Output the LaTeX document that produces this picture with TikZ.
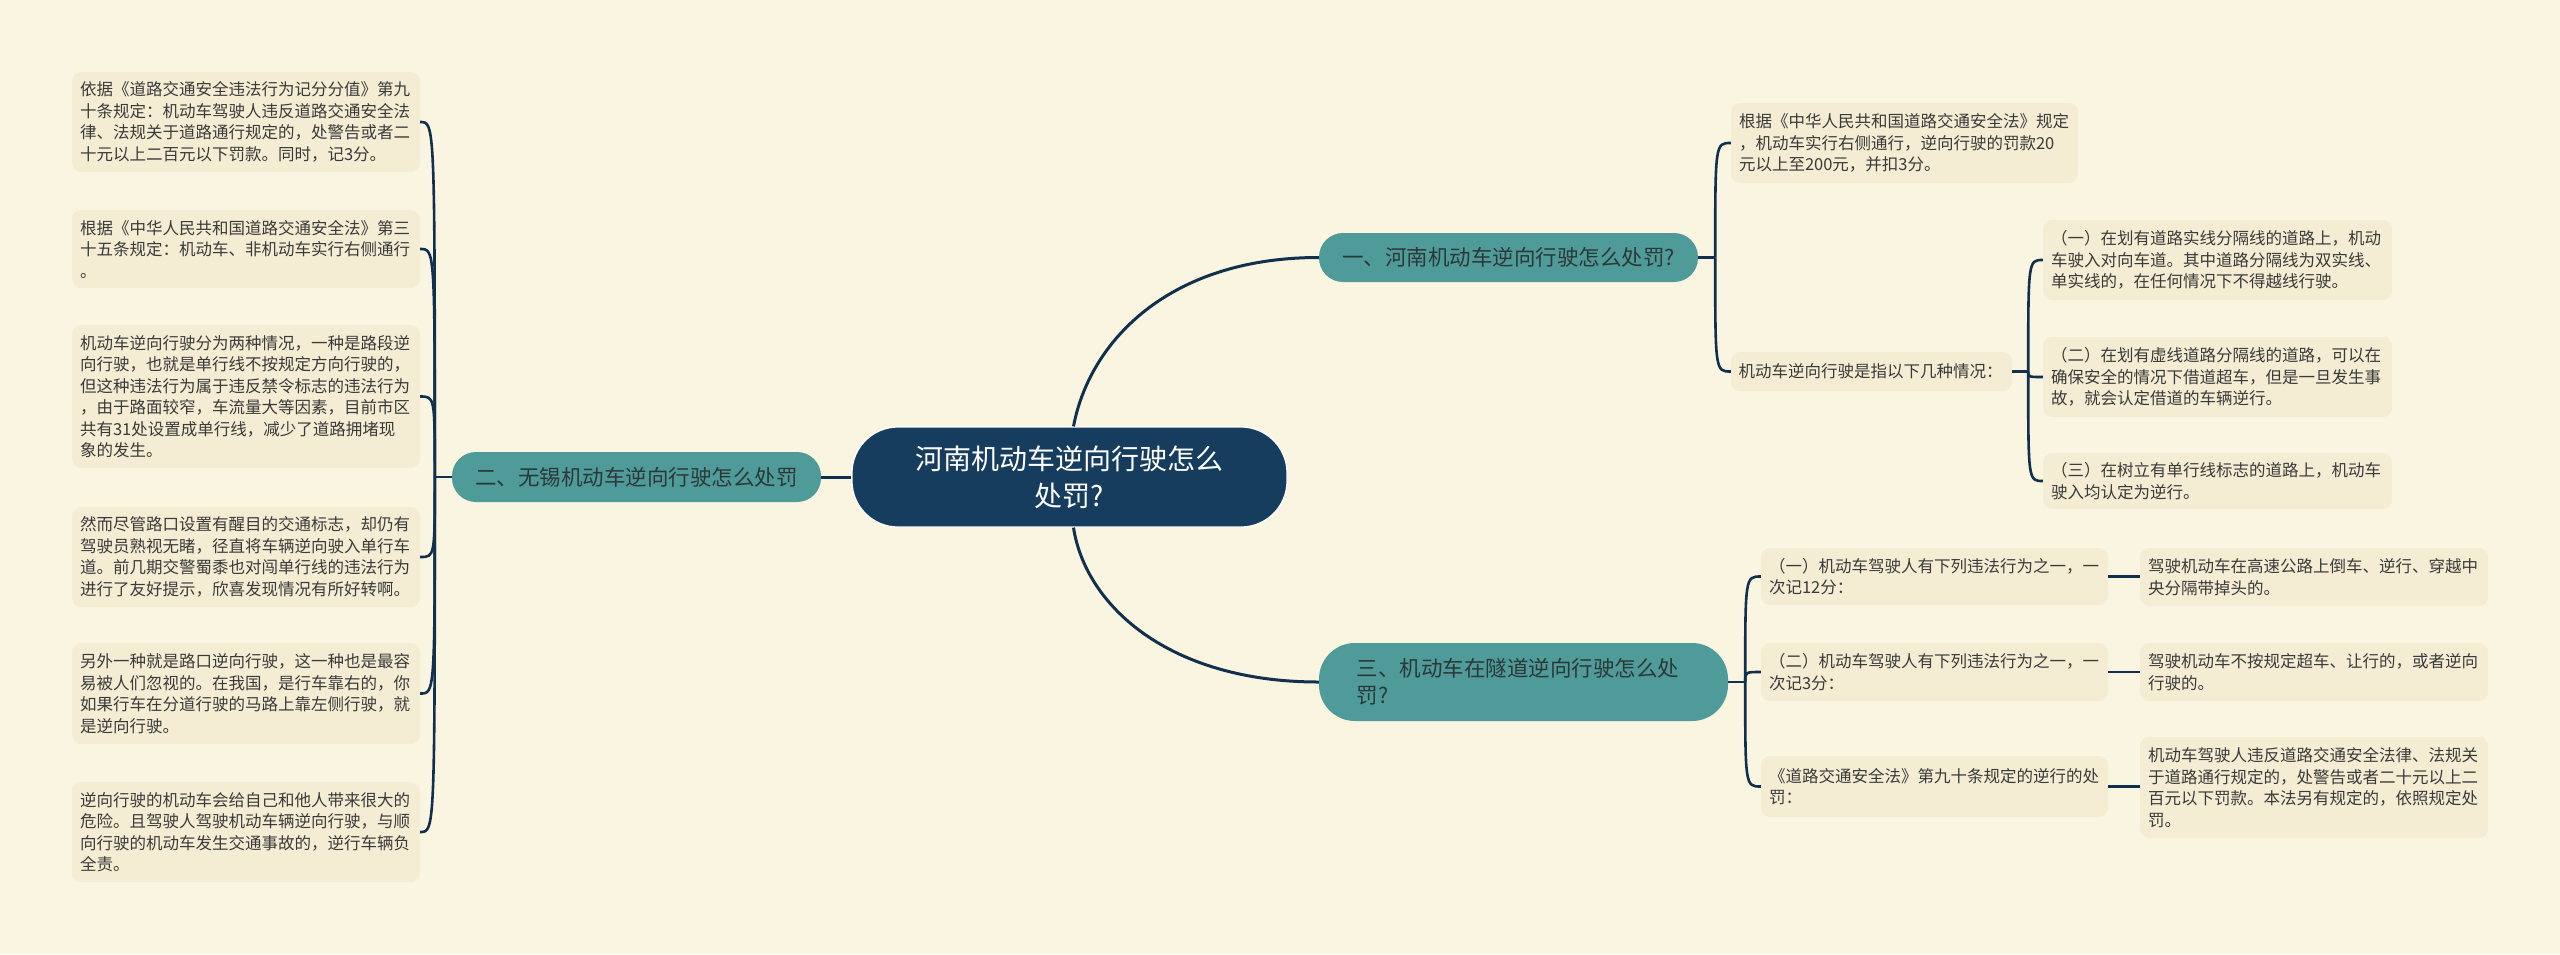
\documentclass[tikz,border=0pt]{standalone}
\usepackage{fontspec}
\setmainfont{Noto Sans CJK SC}
\usetikzlibrary{calc}
\definecolor{bgc}{HTML}{FAF5E1}
\definecolor{boxfill}{HTML}{F4EDD3}
\definecolor{mmteal}{HTML}{4F9B9A}
\definecolor{navyc}{HTML}{173D5E}
\definecolor{linec}{HTML}{11304E}
\definecolor{txtc}{HTML}{3A3A3A}
\definecolor{tealtxt}{HTML}{2C3838}
\begin{document}
\begin{tikzpicture}[x=1pt,y=-1pt,
  txtbox/.style={fill=boxfill, rounded corners=9pt, inner sep=0pt, text=txtc,
    font=\fontsize{16.5}{21.5}\selectfont, align=left},
  topic/.style={fill=mmteal, inner sep=0pt, text=tealtxt,
    font=\fontsize{21.5}{27}\selectfont},
  rootbox/.style={fill=navyc, draw=white, line width=1.2pt, inner sep=0pt, text=white,
    font=\fontsize{28}{37}\selectfont, align=center, rounded corners=46pt},
  mainline/.style={draw=linec, line width=3pt},
  subline/.style={draw=linec, line width=2.6pt}
]
\fill[bgc] (0,0) rectangle (2560,954);
\useasboundingbox (0,0) rectangle (2560,954);

% root
\node[rootbox, minimum width=435pt, minimum height=100pt] (C) at (1069.5,477) {河南机动车逆向行驶怎么\\处罚?};

% topics
\node[topic, rounded corners=24pt, minimum width=379pt, minimum height=49pt] (b1) at (1508.5,257.5) {一、河南机动车逆向行驶怎么处罚?};
\node[topic, rounded corners=24pt, minimum width=369pt, minimum height=50pt] (b2) at (636.5,477) {二、无锡机动车逆向行驶怎么处罚};
\node[topic, rounded corners=36pt, minimum width=409pt, minimum height=78pt, text width=334pt, align=left] (b3) at (1523.5,682) {三、机动车在隧道逆向行驶怎么处\\罚?};

% left boxes
\node[txtbox, minimum width=348pt, minimum height=100pt, text width=332pt] (L1) at (246,122) {依据《道路交通安全违法行为记分分值》第九\\十条规定：机动车驾驶人违反道路交通安全法\\律、法规关于道路通行规定的，处警告或者二\\十元以上二百元以下罚款。同时，记3分。};
\node[txtbox, minimum width=348pt, minimum height=78pt, text width=332pt] (L2) at (246,249) {根据《中华人民共和国道路交通安全法》第三\\十五条规定：机动车、非机动车实行右侧通行\\。};
\node[txtbox, minimum width=348pt, minimum height=143pt, text width=332pt] (L3) at (246,396.5) {机动车逆向行驶分为两种情况，一种是路段逆\\向行驶，也就是单行线不按规定方向行驶的，\\但这种违法行为属于违反禁令标志的违法行为\\，由于路面较窄，车流量大等因素，目前市区\\共有31处设置成单行线，减少了道路拥堵现\\象的发生。};
\node[txtbox, minimum width=348pt, minimum height=100pt, text width=332pt] (L4) at (246,557) {然而尽管路口设置有醒目的交通标志，却仍有\\驾驶员熟视无睹，径直将车辆逆向驶入单行车\\道。前几期交警蜀黍也对闯单行线的违法行为\\进行了友好提示，欣喜发现情况有所好转啊。};
\node[txtbox, minimum width=348pt, minimum height=101pt, text width=332pt] (L5) at (246,693.5) {另外一种就是路口逆向行驶，这一种也是最容\\易被人们忽视的。在我国，是行车靠右的，你\\如果行车在分道行驶的马路上靠左侧行驶，就\\是逆向行驶。};
\node[txtbox, minimum width=348pt, minimum height=100pt, text width=332pt] (L6) at (246,832) {逆向行驶的机动车会给自己和他人带来很大的\\危险。且驾驶人驾驶机动车辆逆向行驶，与顺\\向行驶的机动车发生交通事故的，逆行车辆负\\全责。};

% right of topic 1
\node[txtbox, minimum width=347pt, minimum height=80pt, text width=331pt] (r1) at (1904.5,143) {根据《中华人民共和国道路交通安全法》规定\\，机动车实行右侧通行，逆向行驶的罚款20\\元以上至200元，并扣3分。};
\node[txtbox, minimum width=281pt, minimum height=39pt, text width=266pt] (r2) at (1871.5,371.5) {机动车逆向行驶是指以下几种情况：};

\node[txtbox, minimum width=349pt, minimum height=80pt, text width=333pt] (s1) at (2217.5,260) {（一）在划有道路实线分隔线的道路上，机动\\车驶入对向车道。其中道路分隔线为双实线、\\单实线的，在任何情况下不得越线行驶。};
\node[txtbox, minimum width=349pt, minimum height=80pt, text width=333pt] (s2) at (2217.5,377) {（二）在划有虚线道路分隔线的道路，可以在\\确保安全的情况下借道超车，但是一旦发生事\\故，就会认定借道的车辆逆行。};
\node[txtbox, minimum width=349pt, minimum height=56pt, text width=333pt] (s3) at (2217.5,481) {（三）在树立有单行线标志的道路上，机动车\\驶入均认定为逆行。};

% right of topic 3
\node[txtbox, minimum width=347pt, minimum height=57pt, text width=331pt] (t1) at (1934.5,576.5) {（一）机动车驾驶人有下列违法行为之一，一\\次记12分：};
\node[txtbox, minimum width=347pt, minimum height=58pt, text width=331pt] (t2) at (1934.5,672) {（二）机动车驾驶人有下列违法行为之一，一\\次记3分：};
\node[txtbox, minimum width=347pt, minimum height=61pt, text width=331pt] (t3) at (1934.5,786.5) {《道路交通安全法》第九十条规定的逆行的处\\罚：};

\node[txtbox, minimum width=348pt, minimum height=58pt, text width=332pt] (g1) at (2314,577) {驾驶机动车在高速公路上倒车、逆行、穿越中\\央分隔带掉头的。};
\node[txtbox, minimum width=348pt, minimum height=58pt, text width=332pt] (g2) at (2314,672) {驾驶机动车不按规定超车、让行的，或者逆向\\行驶的。};
\node[txtbox, minimum width=348pt, minimum height=101pt, text width=332pt] (g3) at (2314,787.5) {机动车驾驶人违反道路交通安全法律、法规关\\于道路通行规定的，处警告或者二十元以上二\\百元以下罚款。本法另有规定的，依照规定处\\罚。};

% root connectors
\draw[mainline] (C.west) -- (b2.east);
\draw[mainline] ($(C.north)+(4,0)$) .. controls ($(C.north)+(20,-85)$) and ($(b1.west)+(-150,0)$) .. (b1.west);
\draw[mainline] ($(C.south)+(4,0)$) .. controls ($(C.south)+(16,78)$) and ($(b3.west)+(-150,0)$) .. (b3.west);

% topic 2 (left) bracket
\draw[subline] (b2.west) -- ++(-17,0) coordinate (j2);
\foreach \n in {L1,L2,L3,L4,L5,L6}
  \draw[subline] (j2) .. controls (j2 |- \n.east) .. (\n.east);

% topic 1 bracket
\draw[subline] (b1.east) -- ++(17,0) coordinate (j1);
\foreach \n in {r1,r2}
  \draw[subline] (j1) .. controls (j1 |- \n.west) .. (\n.west);

% r2 bracket
\draw[subline] (r2.east) -- ++(16,0) coordinate (j4);
\foreach \n in {s1,s2,s3}
  \draw[subline] (j4) .. controls (j4 |- \n.west) .. (\n.west);

% topic 3 bracket
\draw[subline] (b3.east) -- ++(17,0) coordinate (j3);
\foreach \n in {t1,t2,t3}
  \draw[subline] (j3) .. controls (j3 |- \n.west) .. (\n.west);

% t -> g
\draw[subline] (t1.east) -- (t1.east -| g1.west);
\draw[subline] (t2.east) -- (t2.east -| g2.west);
\draw[subline] (t3.east) -- (t3.east -| g3.west);
\end{tikzpicture}
\end{document}
